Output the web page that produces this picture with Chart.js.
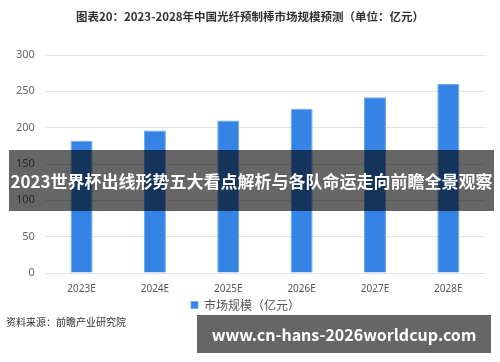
<!DOCTYPE html>
<html>
<head>
<meta charset="utf-8">
<script src="https://cdn.jsdelivr.net/npm/chart.js@4"></script>
<style>
  html, body { margin: 0; padding: 0; background: #fff; }
  #wrap { position: relative; width: 500px; height: 362px; font-family: "Noto Sans CJK SC", "Noto Sans", sans-serif; }
  #title { position: absolute; left: 0; width: 500px; top: 8px; text-align: center; font-size: 11.5px; font-weight: bold; color: #333; }
  #source { position: absolute; left: 6px; top: 314px; font-size: 10px; color: #333; }
  .band { position: absolute; background: rgba(0,0,0,0.6); color: #fff; font-weight: bold; text-align: center; white-space: nowrap; }
  #band1 { left: 9px; width: 485px; top: 150px; height: 61px; line-height: 61px; font-size: 17px; }
  #band2 { left: 197px; width: 294px; top: 315px; height: 38px; line-height: 38px; font-size: 16px; }
</style>
</head>
<body>
<div id="wrap">
  <canvas id="chart" width="500" height="362"></canvas>
  <div id="title">图表20：2023-2028年中国光纤预制棒市场规模预测（单位：亿元）</div>
  <div id="source">资料来源：前瞻产业研究院</div>
  <div class="band" id="band1">2023世界杯出线形势五大看点解析与各队命运走向前瞻全景观察</div>
  <div class="band" id="band2">www.cn-hans-2026worldcup.com</div>
</div>
<script>
const years = ['2023E', '2024E', '2025E', '2026E', '2027E', '2028E'];
const marketSize = [182, 196, 210, 226, 242, 260];
const yTicks = [0, 50, 100, 150, 200, 250, 300];

let ctx = document.getElementById('chart');
let myChart = new Chart(ctx, {
  type: 'bar',
  data: {
    labels: years,
    datasets: [{
      label: '市场规模（亿元）',
      data: marketSize,
      backgroundColor: '#3583e4',
      borderColor: '#6aa5ee',
      borderWidth: { top: 1, left: 1, right: 1, bottom: 0 },
      barPercentage: 0.3,
      categoryPercentage: 1
    }]
  },
  options: {
    responsive: false,
    animation: false,
    layout: { padding: { top: 55, right: 15, bottom: 41, left: 6 } },
    plugins: {
      legend: {
        position: 'bottom',
        labels: {
          boxWidth: 7, boxHeight: 7, padding: 2,
          color: '#555',
          font: { size: 12, family: '"Noto Sans CJK SC", sans-serif' }
        }
      },
      tooltip: { enabled: false }
    },
    scales: {
      x: {
        grid: { display: false },
        border: { display: false },
        ticks: { color: '#555', padding: 2, font: { size: 10, family: '"Noto Sans", sans-serif' } }
      },
      y: {
        min: 0, max: 300,
        afterBuildTicks: axis => { axis.ticks = yTicks.map(v => ({ value: v })); },
        grid: { color: '#e3e3e3', drawTicks: false },
        border: { display: false },
        ticks: { color: '#666', padding: 10, font: { size: 11, family: '"Noto Sans", sans-serif' } }
      }
    }
  }
});
</script>
</body>
</html>
